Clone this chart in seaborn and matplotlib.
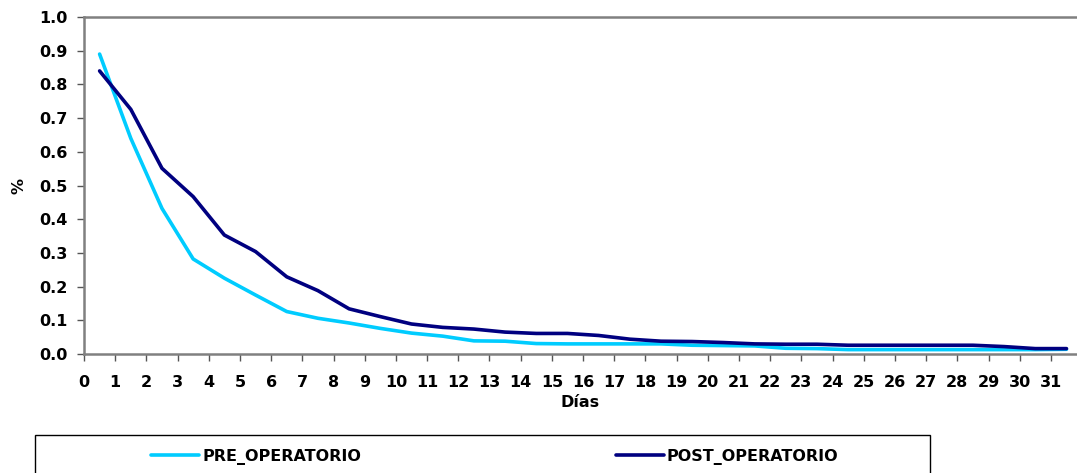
import matplotlib
matplotlib.use('Agg')
import matplotlib.pyplot as plt
import matplotlib.transforms as mtransforms
from matplotlib.patches import Rectangle
import seaborn as sns
import pandas as pd
import numpy as np

# Datos (días 0..31)
dias = list(range(32))
pre_operatorio = [0.890, 0.640, 0.432, 0.282, 0.225, 0.175, 0.126, 0.106, 0.092, 0.076,
                  0.062, 0.053, 0.039, 0.038, 0.031, 0.030, 0.030, 0.030, 0.030, 0.026,
                  0.025, 0.024, 0.017, 0.016, 0.013, 0.013, 0.013, 0.013, 0.013, 0.013,
                  0.013, 0.014]
post_operatorio = [0.840, 0.726, 0.551, 0.467, 0.353, 0.304, 0.229, 0.188, 0.134, 0.111,
                   0.089, 0.079, 0.074, 0.065, 0.061, 0.061, 0.055, 0.044, 0.038, 0.037,
                   0.034, 0.030, 0.029, 0.029, 0.026, 0.026, 0.026, 0.026, 0.026, 0.022,
                   0.016, 0.016]
series = ['PRE_OPERATORIO', 'POST_OPERATORIO']
colores = ['#00CCFF', '#000080']

df = pd.DataFrame({
    'dia': dias * 2,
    'valor': pre_operatorio + post_operatorio,
    'serie': [series[0]] * 32 + [series[1]] * 32,
})
# las categorías se dibujan en el centro de cada intervalo
df['pos'] = df['dia'] + 0.5

sns.set_theme(style="white")
plt.rcParams['font.family'] = ['DejaVu Sans']
plt.rcParams['font.weight'] = 'bold'
plt.rcParams['text.color'] = 'black'
plt.rcParams['axes.labelcolor'] = 'black'

fig = plt.figure(figsize=(10.77, 4.73), dpi=100)
ax = fig.add_axes([84 / 1077, 119 / 473, 1 - 84 / 1077, (354 - 17) / 473])

sns.lineplot(data=df, x='pos', y='valor', hue='serie', palette=colores,
             linewidth=2.6, ax=ax, legend=True)

ax.set_xlim(0, (1077 - 84) / 31.19)
ax.set_ylim(0, 1.0)
ax.set_yticks(np.arange(0, 1.01, 0.1))
ax.set_yticklabels([f'{v:.1f}' for v in np.arange(0, 1.01, 0.1)], fontsize=11.5, fontweight='bold')
ax.set_xticks(dias)
ax.set_xticklabels([str(d) for d in dias], fontsize=11.5, fontweight='bold')
offset = mtransforms.ScaledTranslation(5 / 100, 0, fig.dpi_scale_trans)
for lbl in ax.get_xticklabels():
    lbl.set_transform(lbl.get_transform() + offset)

ax.tick_params(axis='both', direction='out', length=5, width=1, color='#555555',
               bottom=True, left=True, colors='black')
ax.tick_params(axis='x', pad=10)
ax.tick_params(axis='y', pad=7)

for s in ['left', 'bottom', 'top']:
    ax.spines[s].set_color('#808080')
    ax.spines[s].set_linewidth(1.8)
ax.spines['right'].set_visible(False)
ax.grid(False)

ax.set_xlabel('Días', fontsize=11.5, fontweight='bold', labelpad=4)
ax.set_ylabel('%', fontsize=11.5, fontweight='bold', labelpad=9)

handles, labels = ax.get_legend_handles_labels()
ax.get_legend().remove()

# caja de la leyenda
fig.patches.append(Rectangle((35 / 1077, -0.02), (930 - 35) / 1077, 0.02 + (473 - 435) / 473,
                             transform=fig.transFigure, fill=False, edgecolor='black',
                             linewidth=1.0))
centros = [256 / 1077, 727 / 1077]
for h, l, cx in zip(handles, labels, centros):
    fig.legend([h], [l], loc='center', bbox_to_anchor=(cx, (473 - 457) / 473),
               frameon=False, handlelength=3.0, handletextpad=0.2,
               prop={'size': 11.5, 'weight': 'bold'}, labelcolor='black')

plt.savefig('out.png', dpi=100)
plt.close()
